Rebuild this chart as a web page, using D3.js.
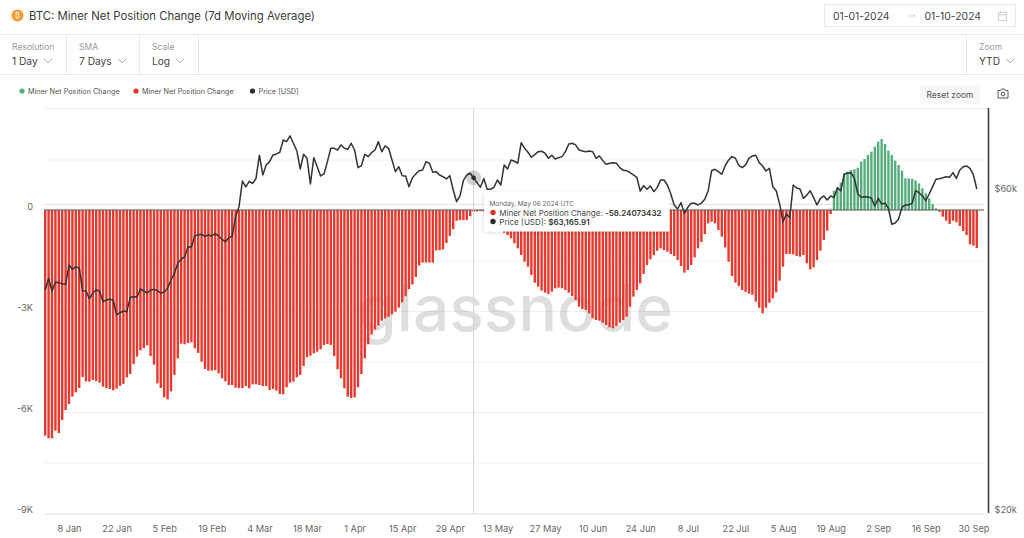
<!DOCTYPE html>
<html><head><meta charset="utf-8">
<script src="https://cdn.jsdelivr.net/npm/d3@7"></script>
<style>html,body{margin:0;padding:0;background:#fff;overflow:hidden}svg{display:block;font-family:Inter,"Noto Sans",sans-serif}</style>
</head><body><svg id="c" width="1024" height="538"></svg>
<script>
const startDay = "2024-01-01";
const endDay = "2024-10-01";
const minerChange = [
-6702,-6781,-6781,-6554,-6623,-6237,-5940,-5762,-5544,-5415,
-5287,-4960,-5089,-5099,-5049,-5079,-5128,-5247,-5287,-5316,
-5356,-5306,-5227,-5168,-4970,-4871,-4574,-4356,-4168,-4099,
-4019,-4336,-4594,-5148,-5287,-5564,-5623,-5386,-4900,-4406,
-3970,-3990,-3950,-3930,-4109,-4247,-4505,-4722,-4772,-4772,
-4752,-4851,-5000,-5089,-5198,-5198,-5277,-5287,-5287,-5227,
-5297,-5178,-5178,-5198,-5227,-5227,-5346,-5316,-5366,-5465,
-5475,-5267,-5128,-5099,-4970,-4900,-4633,-4376,-4326,-4257,
-4208,-4138,-4009,-3980,-4009,-4336,-4732,-5000,-5297,-5544,
-5584,-5564,-5267,-4871,-4406,-3990,-3700,-3550,-3430,-3290,
-3220,-3170,-3100,-3020,-2900,-2740,-2560,-2350,-2210,-1990,
-1650,-1564,-1560,-1560,-1564,-1200,-1190,-1170,-980,-770,
-570,-320,-300,-300,-300,-180,-58.24073432,-40,-30,-40,
-80,-150,-280,-420,-560,-674,-743,-842,-990,-1139,
-1337,-1535,-1683,-1931,-2158,-2277,-2396,-2455,-2495,-2426,
-2327,-2307,-2327,-2376,-2455,-2554,-2673,-2871,-2940,-2970,
-3069,-3217,-3267,-3287,-3346,-3416,-3485,-3514,-3445,-3346,
-3267,-3168,-2871,-2574,-2376,-2178,-1901,-1634,-1465,-1337,
-1208,-1139,-1188,-1238,-1307,-1366,-1485,-1663,-1861,-1782,
-1634,-1406,-1139,-950,-713,-396,-347,-396,-594,-792,
-1109,-1535,-1960,-2158,-2257,-2376,-2435,-2485,-2515,-2723,
-2901,-3069,-2901,-2752,-2624,-2445,-2099,-1683,-1307,-1307,
-1317,-1366,-1386,-1337,-1584,-1762,-1703,-1485,-1208,-891,
-614,-119,574,644,812,1089,1139,1188,1208,1257,
1436,1515,1634,1733,1881,2030,2109,1960,1762,1634,
1465,1337,1168,941,941,931,881,792,644,495,
347,178,50,-50,-198,-317,-416,-317,-366,-475,
-624,-743,-1020,-1059,-1129];
const priceUsd = [
42971,44735,42826,44171,44066,43916,43826,46826,46135,46505,
46390,42870,42826,41710,42490,43016,42780,41284,41522,41620,
41522,39445,39755,39985,39890,41910,42000,41955,43120,42826,
42535,42971,43075,42870,42535,42680,43225,44471,45510,47100,
47795,48130,49860,49810,51780,51900,52030,51670,51900,51720,
52130,51720,51140,50720,51420,51670,55260,57190,62455,61200,
62390,61950,63000,68250,63765,65990,66740,68295,68530,68930,
71893,71480,72930,71090,69300,65085,68460,67520,61826,67660,
65600,63545,63985,66740,69870,69870,69466,70680,69870,69630,
71090,69466,65380,65830,68460,67900,68835,69466,71480,69070,
70430,69870,67123,64490,65600,63610,63545,61258,63135,64000,
64705,64859,66740,66380,64355,64490,63765,63390,62890,63610,
60558,58181,59340,62525,63765,64130,63165.91,62100,61130,63000,
60700,60700,61130,62672,61600,65990,65085,67123,66830,66380,
71240,69870,68930,67750,68370,69070,69170,68700,67520,68225,
67355,67660,67900,69070,70920,71090,70680,69466,69230,69070,
69230,69070,67520,68060,66965,66170,66380,66515,66380,65380,
64795,64705,64270,63765,63260,60350,61450,60700,61400,60200,
61050,62672,62672,61600,59730,57530,56740,57985,55915,57075,
57860,57860,57530,57900,58650,60410,64705,65015,64490,63917,
65830,67123,67900,67520,65920,65380,65990,67520,68060,68225,
66515,65760,64640,65240,61258,60410,57728,54320,55780,55075,
61600,60980,60770,58850,59500,60410,58980,57530,58850,59340,
58516,59340,58980,61050,60350,63917,64205,64270,63000,59730,
59060,59190,59120,58930,57330,58850,57728,57860,56880,53844,
54083,54830,57075,57530,57530,57860,60410,60000,59340,58380,
59730,61258,62820,62950,63160,63390,63260,64270,63000,64859,
65600,65760,65240,63765,60770];
const tickDays = ["2024-01-08","2024-01-22","2024-02-05","2024-02-19","2024-03-04","2024-03-18","2024-04-01","2024-04-15","2024-04-29","2024-05-13","2024-05-27","2024-06-10","2024-06-24","2024-07-08","2024-07-22","2024-08-05","2024-08-19","2024-09-02","2024-09-16","2024-09-30"];
const leftTicks = [0,-3000,-6000,-9000];
const gridTicks = [1500,-1500,-3000,-4500,-6000,-7500];
const priceTicks = [60000,20000];
const priceGridLevel = [57650];
const hoverDay = "2024-05-06";
const legendItems = [["Miner Net Position Change","#4fae7c"],["Miner Net Position Change","#e5352d"],["Price [USD]","#2b2b2b"]];
const controls = [["Resolution","1 Day"],["SMA","7 Days"],["Scale","Log"]];

const day = s => new Date(s+"T00:00:00Z");
const start = day(startDay);
const dates = minerChange.map((_,i)=>d3.utcDay.offset(start,i));
const x = d3.scaleUtc().domain([start,day(endDay)]).range([45.2,976.8]);
const y = d3.scaleLinear().domain([0,-9000]).range([210,513]);
const yP = d3.scaleLog().domain([60000,20000]).range([192.7,513]);
const svg = d3.select("#c");
const line = "#e9e9e9";

// header
svg.append("circle").attr("cx",17.5).attr("cy",15.5).attr("r",6).attr("fill","#f39a32");
svg.append("text").attr("x",17.5).attr("y",18).attr("text-anchor","middle").attr("font-size",7).attr("fill","#fff").text("₿");
svg.append("text").attr("x",29).attr("y",20).attr("font-size",11.35).attr("fill","#3a3a3a").text("BTC: Miner Net Position Change (7d Moving Average)");
const hl = [34.5,74.5];
svg.selectAll(".hl").data(hl).enter().append("line").attr("x1",0).attr("x2",1024).attr("y1",d=>d).attr("y2",d=>d).attr("stroke",line);
const seps=[66.5,139.5,198.5,966.5];
svg.selectAll(".sep").data(seps).enter().append("line").attr("x1",d=>d).attr("x2",d=>d).attr("y1",35).attr("y2",74).attr("stroke",line);
const chevron=(cx,cy)=>svg.append("path").attr("d",`M${cx-4},${cy-2}L${cx},${cy+2}L${cx+4},${cy-2}`).attr("fill","none").attr("stroke","#999").attr("stroke-width",.8);
const ctlX=[12,79,152], chevX=[48,122,180];
controls.forEach((c,i)=>{
  svg.append("text").attr("x",ctlX[i]).attr("y",50).attr("font-size",8.6).attr("fill","#9a9a9a").text(c[0]);
  svg.append("text").attr("x",ctlX[i]).attr("y",65).attr("font-size",10.2).attr("fill","#444").text(c[1]);
  chevron(chevX[i],61);
});
svg.append("text").attr("x",979).attr("y",50).attr("font-size",8.6).attr("fill","#9a9a9a").text("Zoom");
svg.append("text").attr("x",979).attr("y",65).attr("font-size",10.2).attr("fill","#444").text("YTD");
chevron(1010,61);
svg.append("rect").attr("x",824.5).attr("y",4.5).attr("width",191).attr("height",22).attr("fill","#fff").attr("stroke",line);
svg.append("text").attr("x",833).attr("y",19.5).attr("font-size",10.4).attr("fill","#444").text("01-01-2024");
svg.append("text").attr("x",924.5).attr("y",19.5).attr("font-size",10.4).attr("fill","#444").text("01-10-2024");
svg.append("path").attr("d","M909,16H915M913,14.5L915,16").attr("stroke","#bbb").attr("stroke-width",.7).attr("fill","none");
svg.append("path").attr("d","M998.5,12.5H1006.5V20.5H998.5ZM998.5,14.8H1006.5M1000.5,11V13M1004.5,11V13").attr("stroke","#c4c4c4").attr("stroke-width",.8).attr("fill","none");

// legend
const legX=[22,136,252.5];
legendItems.forEach((l,i)=>{
  svg.append("circle").attr("cx",legX[i]).attr("cy",91).attr("r",2.6).attr("fill",l[1]);
  svg.append("text").attr("x",legX[i]+6).attr("y",94).attr("font-size",7.25).attr("fill","#555").text(l[0]);
});
svg.append("rect").attr("x",920).attr("y",85).attr("width",60).attr("height",19).attr("rx",2).attr("fill","#f7f7f7");
svg.append("text").attr("x",950).attr("y",97.5).attr("text-anchor","middle").attr("font-size",8.5).attr("fill","#555").text("Reset zoom");
svg.append("path").attr("d","M998,90.5H1000.5L1001.5,89H1004.5L1005.5,90.5H1008V98H998Z").attr("fill","none").attr("stroke","#444").attr("stroke-width",.9);
svg.append("circle").attr("cx",1003).attr("cy",94).attr("r",1.9).attr("fill","none").attr("stroke","#444").attr("stroke-width",.9);

// frame and grid
svg.append("line").attr("x1",44).attr("x2",988).attr("y1",108.5).attr("y2",108.5).attr("stroke","#eee");
svg.selectAll(".grid").data(gridTicks).enter().append("line").attr("x1",44).attr("x2",984).attr("y1",d=>y(d)+.5).attr("y2",d=>y(d)+.5).attr("stroke","#f0f0f0");
svg.selectAll(".pgrid").data(priceGridLevel).enter().append("line").attr("x1",44).attr("x2",984).attr("y1",d=>yP(d)).attr("y2",d=>yP(d)).attr("stroke","#dedede");

// watermark
svg.append("text").attr("x",515).attr("y",331).attr("text-anchor","middle").attr("font-size",64).attr("font-weight",500).attr("textLength",316).attr("lengthAdjust","spacingAndGlyphs").attr("fill","#000").attr("fill-opacity",.13).text("glassnode");

// bars
const bw=2.4;
svg.append("g").selectAll("rect").data(minerChange).enter().append("rect")
  .attr("x",(d,i)=>x(dates[i])-bw/2).attr("width",bw)
  .attr("y",d=>d<0?y(0):y(-d)*0+2*y(0)-y(-d))
  .attr("height",d=>Math.abs(y(d)-y(0)))
  .attr("fill",d=>d<0?"#e9392f":"#58ad7f");

// zero line, axes
svg.append("line").attr("x1",44).attr("x2",984).attr("y1",y(0)).attr("y2",y(0)).attr("stroke","#555").attr("stroke-width",1);
const fmtLeft = d=> d===0?"0":(d/1000)+"K";
const gl = svg.append("g").attr("transform","translate(33,0)").call(d3.axisLeft(y).tickValues(leftTicks).tickFormat(fmtLeft).tickSize(0).tickPadding(0));
gl.select(".domain").remove();
gl.selectAll("text").attr("dy",0).attr("y",-1).attr("font-size",9.2).attr("font-family","Inter,sans-serif").attr("fill","#666");
const gb = svg.append("g").attr("transform","translate(0,513.5)").call(d3.axisBottom(x).tickValues(tickDays.map(day)).tickFormat(d3.utcFormat("%-d %b")).tickSize(3).tickPadding(9));
gb.select(".domain").attr("d","M44,0.5H984").attr("stroke","#ddd");
gb.selectAll("line").attr("stroke","#eee");
gb.selectAll("text").attr("font-size",9.2).attr("font-family","Inter,sans-serif").attr("fill","#666");
const gr = svg.append("g").attr("transform","translate(988.5,0)").call(d3.axisRight(yP).tickValues(priceTicks).tickFormat(d=>"$"+(d/1000)+"k").tickSize(0).tickPadding(6));
gr.select(".domain").attr("d","M0,108V513").attr("stroke","#333").attr("stroke-width",1.5);
gr.selectAll("text").attr("dy",0).attr("y",-1).attr("font-size",9.2).attr("font-family","Inter,sans-serif").attr("fill","#666");

// crosshair
const hi = d3.bisectLeft(dates,day(hoverDay));
svg.append("line").attr("x1",x(dates[hi])).attr("x2",x(dates[hi])).attr("y1",108).attr("y2",513).attr("stroke","#d4d4d4");

// price line
svg.append("path").attr("d",d3.line().x((d,i)=>x(dates[i])).y(d=>yP(d))(priceUsd)).attr("fill","none").attr("stroke","#333").attr("stroke-width",1.5).attr("stroke-linejoin","round");
svg.append("circle").attr("cx",x(dates[hi])).attr("cy",yP(priceUsd[hi])).attr("r",7.5).attr("fill","#000").attr("fill-opacity",.18);
svg.append("circle").attr("cx",x(dates[hi])).attr("cy",yP(priceUsd[hi])).attr("r",2.3).attr("fill","#2b2b2b");

// tooltip
const defs = svg.append("defs").append("filter").attr("id","sh").attr("x","-10%").attr("y","-20%").attr("width","120%").attr("height","150%");
defs.append("feDropShadow").attr("dx",0).attr("dy",1).attr("stdDeviation",2).attr("flood-opacity",.15);
svg.append("rect").attr("x",484).attr("y",192.5).attr("width",185.5).attr("height",39).attr("fill","#fff").attr("filter","url(#sh)");
svg.append("text").attr("x",489.5).attr("y",206).attr("font-size",6.5).attr("fill","#666").text("Monday, May 06 2024 UTC");
const rows=[["#e5352d","Miner Net Position Change: ",d3.format(".8f")(minerChange[hi]).replace("−","-"),215.5],["#2b2b2b","Price [USD]: ","$"+d3.format(",.2f")(priceUsd[hi]),224.5]];
rows.forEach(r=>{
  svg.append("circle").attr("cx",493).attr("cy",r[3]-3).attr("r",2.7).attr("fill",r[0]);
  const t=svg.append("text").attr("x",499.3).attr("y",r[3]).attr("font-size",8).attr("fill","#444").text(r[1]);
  t.append("tspan").attr("font-weight",600).attr("fill","#333").text(r[2]);
});
</script></body></html>
